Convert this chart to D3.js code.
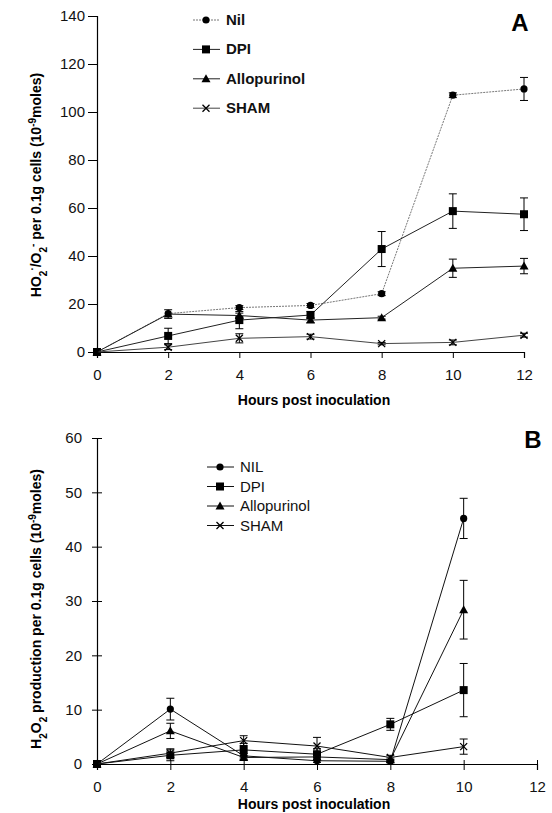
<!DOCTYPE html>
<html lang="en">
<head>
<meta charset="utf-8">
<title>HO2/O2 and H2O2 production</title>
<script src="https://cdn.jsdelivr.net/npm/d3@7"></script>
<style>
  body { margin: 0; background: #fff; }
  svg { font-family: "Liberation Sans", Arial, sans-serif; }
</style>
</head>
<body>
<script>
// hours
var hoursA = [0, 2, 4, 6, 8, 10, 12];
var hoursB = [0, 2, 4, 6, 8, 10];
var xTicks = [0, 2, 4, 6, 8, 10, 12];

// panel A: HO2/O2- per 0.1g cells
var nilA = [0, 16, 18.5, 19.4, 24.3, 107, 109.6];
var nilErrA = [0, 0, 0.8, 0.8, 0.8, 1, 4.8];
var dpiA = [0, 6.7, 13.3, 15.4, 42.9, 58.7, 57.4];
var dpiErrA = [0, 3.2, 3.6, 1.5, 7.3, 7.2, 6.8];
var alloA = [0, 15.8, 15.2, 13.3, 14.3, 34.9, 35.8];
var alloErrA = [0, 1.8, 1, 1, 0.6, 3.8, 3.2];
var shamA = [0, 2, 5.7, 6.4, 3.5, 4, 7];
var shamErrA = [0, 1, 1.9, 1, 0.5, 1, 0.8];
var yTicksA = [0, 20, 40, 60, 80, 100, 120, 140];

// panel B: H2O2 production per 0.1g cells
var nilB = [0, 10.1, 1.5, 0.6, 0.5, 45.2];
var nilErrB = [0, 2, 0.4, 0.3, 0.2, 3.7];
var dpiB = [0, 1.6, 2.6, 1.8, 7.3, 13.6];
var dpiErrB = [0, 1, 1.2, 1, 1.1, 4.9];
var alloB = [0, 6.1, 1.2, 1.3, 0.8, 28.4];
var alloErrB = [0, 1.4, 0.4, 0.4, 0.3, 5.4];
var shamB = [0, 2, 4.3, 3.3, 1.2, 3.2];
var shamErrB = [0, 0.8, 0.9, 1.6, 0.4, 1.4];
var yTicksB = [0, 10, 20, 30, 40, 50, 60];

var namesA = ["Nil", "DPI", "Allopurinol", "SHAM"];
var namesB = ["NIL", "DPI", "Allopurinol", "SHAM"];
var shapes = ["circle", "square", "triangle", "cross"];

var w = 552, h = 813;
var svg = d3.select("body").append("svg").attr("width", w).attr("height", h);

function marker(g, shape, x, y) {
  if (shape == "circle") {
    g.append("circle").attr("cx", x).attr("cy", y).attr("r", 3.6).attr("fill", "#000");
  } else if (shape == "square") {
    g.append("rect").attr("x", x - 4).attr("y", y - 4).attr("width", 8).attr("height", 8).attr("fill", "#000");
  } else if (shape == "triangle") {
    g.append("path").attr("d", "M" + x + "," + (y - 4.5) + "L" + (x + 4.5) + "," + (y + 3.5) + "L" + (x - 4.5) + "," + (y + 3.5) + "Z").attr("fill", "#000");
  } else {
    g.append("path").attr("d", "M" + (x - 3.5) + "," + (y - 3.5) + "L" + (x + 3.5) + "," + (y + 3.5) + "M" + (x + 3.5) + "," + (y - 3.5) + "L" + (x - 3.5) + "," + (y + 3.5))
      .attr("stroke", "#000").attr("stroke-width", 1.3);
  }
}

function panel(opt) {
  var x = d3.scaleLinear().domain([0, 12]).range(opt.xr);
  var y = d3.scaleLinear().domain(opt.yd).range(opt.yr);
  var g = svg.append("g");

  // axes
  var xa = g.append("g").attr("transform", "translate(0," + opt.yr[0] + ")")
    .call(d3.axisBottom(x).tickValues(xTicks).tickSize(6).tickPadding(11));
  var ya = g.append("g").attr("transform", "translate(" + opt.xr[0] + ",0)")
    .call(d3.axisLeft(y).tickValues(opt.yTicks).tickSize(opt.cross ? 5 : 9).tickPadding(opt.cross ? 10 : 3));
  [xa, ya].forEach(function(a) {
    a.select(".domain").attr("stroke", "#000").attr("stroke-width", 1.2);
    a.selectAll(".tick line").attr("stroke", "#000");
    a.selectAll("text").attr("font-size", 15).attr("fill", "#111")
      .attr("font-family", "'Liberation Sans', Arial, sans-serif");
  });
  if (opt.cross) {
    ya.selectAll(".tick line").attr("x1", 5);
    xa.selectAll(".tick line").attr("y1", -4);
  }

  var line = d3.line().x(function(d) { return x(d[0]); }).y(function(d) { return y(d[1]); });

  opt.series.forEach(function(s, i) {
    var pts = opt.hours.map(function(hh, k) { return [hh, s.v[k], s.e[k]]; });
    g.append("path").datum(pts).attr("d", line).attr("fill", "none")
      .attr("stroke", s.color).attr("stroke-width", 1)
      .attr("stroke-dasharray", s.dash || null);
    // error bars
    pts.forEach(function(p) {
      if (!p[2]) return;
      var cx = x(p[0]), y1 = y(p[1] + p[2]), y2 = y(Math.max(0, p[1] - p[2]));
      g.append("line").attr("x1", cx).attr("x2", cx).attr("y1", y1).attr("y2", y2).attr("stroke", "#000").attr("stroke-width", 1);
      g.append("line").attr("x1", cx - 4).attr("x2", cx + 4).attr("y1", y1).attr("y2", y1).attr("stroke", "#000").attr("stroke-width", 1);
      g.append("line").attr("x1", cx - 4).attr("x2", cx + 4).attr("y1", y2).attr("y2", y2).attr("stroke", "#000").attr("stroke-width", 1);
    });
    pts.forEach(function(p) { marker(g, shapes[i], x(p[0]), y(p[1])); });
  });

  // legend
  opt.names.forEach(function(n, i) {
    var ly = opt.leg[1] + i * opt.leg[2];
    var lx = opt.leg[0];
    g.append("line").attr("x1", lx).attr("x2", lx + 27).attr("y1", ly).attr("y2", ly)
      .attr("stroke", opt.series[i].color).attr("stroke-width", 1)
      .attr("stroke-dasharray", opt.series[i].dash || null);
    marker(g, shapes[i], lx + 13, ly);
    g.append("text").attr("x", lx + 33).attr("y", ly + 5).text(n)
      .attr("font-size", opt.legSize).attr("font-weight", opt.legBold ? "bold" : "normal").attr("fill", "#111");
  });

  // panel letter
  g.append("text").attr("x", opt.letter[0]).attr("y", opt.letter[1]).attr("text-anchor", "middle")
    .attr("font-size", 24).attr("font-weight", "bold").text(opt.letterText);

  // x title
  g.append("text").attr("x", 314).attr("y", opt.xTitleY).attr("text-anchor", "middle")
    .attr("font-size", 14).attr("font-weight", "bold").text("Hours post inoculation");

  // y title
  var yt = g.append("text").attr("transform", "translate(41," + opt.yTitleY + ") rotate(-90)")
    .attr("text-anchor", "middle").attr("font-size", 14).attr("font-weight", "bold");
  opt.yTitle.forEach(function(part) {
    var t = yt.append("tspan").text(part[0]);
    if (part[1] == "sub") t.attr("baseline-shift", "sub").attr("font-size", 10);
    if (part[1] == "sup") t.attr("baseline-shift", "super").attr("font-size", 10);
  });
}

panel({
  xr: [97, 524], yd: [0, 140], yr: [352, 16], yTicks: yTicksA, hours: hoursA, cross: false,
  series: [
    { v: nilA, e: nilErrA, color: "#777", dash: "2,1" },
    { v: dpiA, e: dpiErrA, color: "#222" },
    { v: alloA, e: alloErrA, color: "#222" },
    { v: shamA, e: shamErrA, color: "#444" }
  ],
  names: namesA, leg: [193, 20, 29.4], legSize: 15, legBold: true,
  letter: [520, 31], letterText: "A", xTitleY: 405, yTitleY: 185,
  yTitle: [["HO", ""], ["2", "sub"], ["·", "sup"], ["/O", ""], ["2", "sub"], ["-", "sup"],
           [" per 0.1g cells (10", ""], ["-9", "sup"], ["moles)", ""]]
});

panel({
  xr: [97, 537], yd: [0, 60], yr: [764, 438], yTicks: yTicksB, hours: hoursB, cross: true,
  series: [
    { v: nilB, e: nilErrB, color: "#111" },
    { v: dpiB, e: dpiErrB, color: "#111" },
    { v: alloB, e: alloErrB, color: "#111" },
    { v: shamB, e: shamErrB, color: "#111" }
  ],
  names: namesB, leg: [207, 467, 19.5], legSize: 15, legBold: false,
  letter: [533, 448], letterText: "B", xTitleY: 809, yTitleY: 609,
  yTitle: [["H", ""], ["2", "sub"], ["O", ""], ["2", "sub"],
           [" production per 0.1g cells (10", ""], ["-9", "sup"], ["moles)", ""]]
});
</script>
</body>
</html>
